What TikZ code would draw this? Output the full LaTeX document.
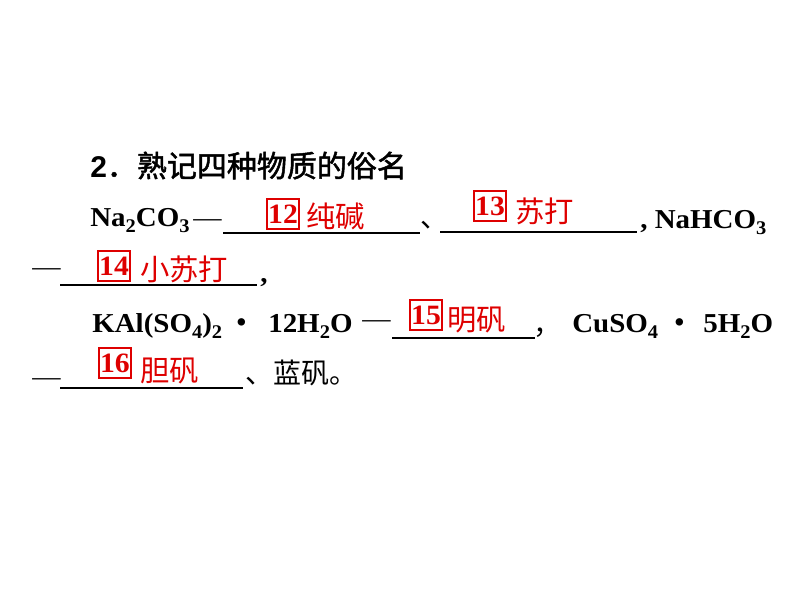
\documentclass[tikz,border=0pt]{standalone}
\usepackage{fontspec}
\setmainfont{Liberation Serif}[FakeStretch=1.06]
\newfontfamily\cjk{Noto Sans CJK SC}
\newfontfamily\cjkhei{Noto Sans CJK SC}[FakeBold=1.6]
\newfontfamily\arialbf{Liberation Sans}
\definecolor{ansred}{RGB}{222,0,0}
\newcommand\chsub[1]{\raisebox{-0.22em}{\fontsize{14.5}{14.5}\selectfont#1}}
\begin{document}
\begin{tikzpicture}
[x=0.75pt,y=-0.75pt,
  formula/.style={anchor=base west,inner sep=0pt,font=\fontsize{20.5}{21}\selectfont\bfseries},%
  dashline/.style={anchor=base west,inner sep=0pt,font=\fontsize{20}{20}\selectfont},%
  midot/.style={anchor=base,inner sep=0pt,font=\fontsize{20}{20}\selectfont\cjk\bfseries},%
  bodycn/.style={anchor=base west,inner sep=0pt,font=\fontsize{21}{21}\selectfont\cjk},%
  answer/.style={anchor=base west,inner sep=0pt,text=ansred,font=\fontsize{22}{22}\selectfont\cjk},%
  numbox/.style={draw=ansred,line width=1.6pt,text=ansred,inner sep=0pt,
    minimum width=24pt,minimum height=23pt,font=\fontsize{21}{21}\selectfont\bfseries},%
  blank/.style={line width=1.6pt}]
\useasboundingbox (0,0) rectangle (794,596);
%% heading
\node (title) at (90,177) [anchor=base west,inner sep=0pt,font=\fontsize{22.5}{22.5}\selectfont]
  {{\arialbf\bfseries 2}{\cjkhei ．熟记四种物质的俗名}};
%% Na2CO3 and NaHCO3
\node (na2co3) at (90,226) [formula] {Na\chsub{2}CO\chsub{3}};
\node (d1) at (193,226) [dashline] {—};
\draw[blank] (223,233) -- (420,233);
\node (b12) at (283,214) [numbox] {12};
\node (a12) at (306,227) [answer] {纯碱};
\node (c1) at (420,227) [bodycn] {、};
\draw[blank] (440,232) -- (637,232);
\node (b13) at (490,206) [numbox] {13};
\node (a13) at (515,222) [answer] {苏打};
\node (nahco3) at (640,228) [formula] {, NaHCO\chsub{3}};
\node (d2) at (32,275) [dashline] {—};
\draw[blank] (60,285) -- (257,285);
\node (b14) at (114,266) [numbox] {14};
\node (a14) at (140,280) [answer] {小苏打};
\node (comma1) at (260,282) [formula] {,};
%% alum and blue vitriol
\node (kal) at (92,332) [formula] {KAl(SO\chsub{4})\chsub{2}};
\node (dot1) at (242,332) [midot] {・};
\node (h2o12) at (268,332) [formula] {12H\chsub{2}O};
\node (d3) at (362,327) [dashline] {—};
\draw[blank] (392,338) -- (535,338);
\node (b15) at (426,315) [numbox] {15};
\node (a15) at (447,330) [answer] {明矾};
\node (c2) at (533,334) [bodycn] {，};
\node (cuso4) at (572,332) [formula] {CuSO\chsub{4}};
\node (dot2) at (680,332) [midot] {・};
\node (h2o5) at (703,332) [formula] {5H\chsub{2}O};
\node (d4) at (32,385) [dashline] {—};
\draw[blank] (60,388) -- (243,388);
\node (b16) at (115,363) [numbox] {16};
\node (a16) at (140,381) [answer] {胆矾};
\node (c3) at (245,383) [bodycn] {、蓝矾。};
\end{tikzpicture}
\end{document}
